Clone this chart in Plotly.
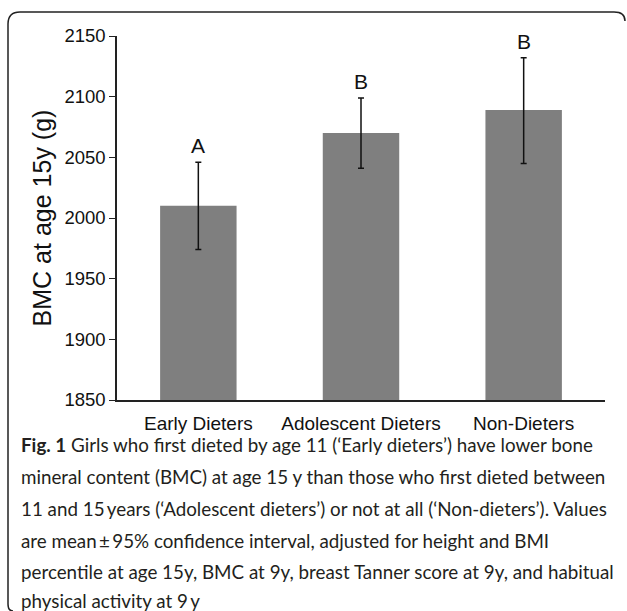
import plotly.graph_objects as go

categories = ["Early Dieters", "Adolescent Dieters", "Non-Dieters"]
bmc_mean = [2010, 2070, 2089]
ci_plus = [36, 29, 43]
ci_minus = [36, 29, 44]
group_letters = ["A", "B", "B"]
y_ticks = [1850, 1900, 1950, 2000, 2050, 2100, 2150]

caption_lines = [
    "<b>Fig. 1</b> Girls who first dieted by age 11 (\u2018Early dieters\u2019) have lower bone",
    "mineral content (BMC) at age 15 y than those who first dieted between",
    "11 and 15\u2009years (\u2018Adolescent dieters\u2019) or not at all (\u2018Non-dieters\u2019). Values",
    "are mean\u2009\u00b1\u200995% confidence interval, adjusted for height and BMI",
    "percentile at age 15y, BMC at 9y, breast Tanner score at 9y, and habitual",
    "physical activity at 9\u2009y",
]

W, H = 627, 611
ML, MR, MT, MB = 117, 22, 36, 211
PW, PH = W - ML - MR, H - MT - MB


def px(x):
    return (x - ML) / PW


def py(y):
    return (H - MB - y) / PH


fig = go.Figure()
fig.add_trace(go.Bar(
    x=categories,
    y=bmc_mean,
    marker=dict(color="#7f7f7f", line=dict(width=0)),
    error_y=dict(type="data", symmetric=False, array=ci_plus, arrayminus=ci_minus,
                 color="#111111", thickness=1.5, width=3),
))

for c, m, e, lab in zip(categories, bmc_mean, ci_plus, group_letters):
    fig.add_annotation(x=c, y=m + e, text=lab, showarrow=False, yanchor="bottom",
                       yshift=3, font=dict(family="Liberation Sans, Arial", size=21, color="#111111"))

cap_y = [444, 476, 508, 540, 571, 600]
for t, yy in zip(caption_lines, cap_y):
    fig.add_annotation(xref="paper", yref="paper", x=px(19), y=py(yy), text=t,
                       showarrow=False, xanchor="left", yanchor="middle",
                       font=dict(family="Lato", size=18.8, color="#231f20"))

path = (
    f"M {px(13)},{py(611)} Q {px(8)},{py(611)} {px(8)},{py(604)} "
    f"L {px(8)},{py(24)} Q {px(8)},{py(12)} {px(20)},{py(12)} "
    f"L {px(614)},{py(12)} Q {px(625)},{py(12)} {px(625)},{py(21)}"
)
fig.add_shape(type="path", xref="paper", yref="paper", path=path,
              line=dict(color="#222222", width=1.5))

fig.update_layout(
    width=W, height=H,
    margin=dict(l=ML, r=MR, t=MT, b=MB, pad=0),
    paper_bgcolor="white", plot_bgcolor="white",
    bargap=0.53,
    showlegend=False,
    font=dict(family="Liberation Sans, Arial", size=19, color="#111111"),
    xaxis=dict(showline=True, linecolor="#222222", linewidth=1.5, ticks="",
               tickfont=dict(size=19), showgrid=False, ticklabelstandoff=5),
    yaxis=dict(range=[1850, 2150], tickvals=y_ticks, showline=True, linecolor="#222222",
               linewidth=1.5, ticks="outside", ticklen=6, tickcolor="#222222",
               showgrid=False, zeroline=False, tickfont=dict(size=18.5),
               title=dict(text="BMC at age 15y (g)", font=dict(size=25), standoff=6)),
)

fig.write_html("out.html", config={"displayModeBar": False},
               post_script="document.body.style.margin='0';document.body.style.overflow='hidden';")
